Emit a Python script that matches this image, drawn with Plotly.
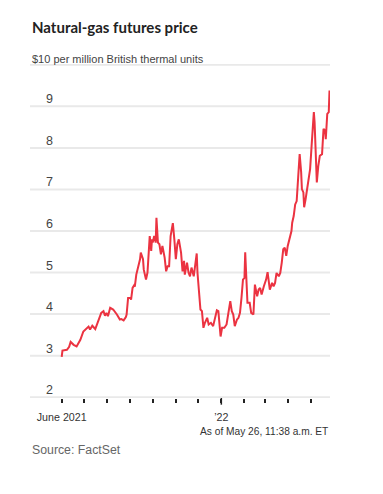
import plotly.graph_objects as go

# ---- data ----
dates = [
    "2021-06-01", "2021-06-02", "2021-06-08", "2021-06-11", "2021-06-13", "2021-06-17",
    "2021-06-21", "2021-06-26", "2021-06-30", "2021-07-05", "2021-07-07", "2021-07-09",
    "2021-07-12", "2021-07-16", "2021-07-20", "2021-07-24", "2021-07-27", "2021-07-29",
    "2021-07-31", "2021-08-02", "2021-08-05", "2021-08-09", "2021-08-14", "2021-08-18",
    "2021-08-20", "2021-08-23", "2021-08-26", "2021-08-27", "2021-08-29", "2021-09-01",
    "2021-09-02", "2021-09-04", "2021-09-06", "2021-09-07", "2021-09-09", "2021-09-10",
    "2021-09-12", "2021-09-14", "2021-09-15", "2021-09-18", "2021-09-19", "2021-09-22",
    "2021-09-24", "2021-09-26", "2021-09-27", "2021-09-29", "2021-09-30", "2021-10-01",
    "2021-10-03", "2021-10-05", "2021-10-06", "2021-10-08", "2021-10-10", "2021-10-12",
    "2021-10-14", "2021-10-17", "2021-10-19", "2021-10-21", "2021-10-23", "2021-10-25",
    "2021-10-28", "2021-10-30", "2021-11-01", "2021-11-03", "2021-11-05", "2021-11-08",
    "2021-11-10", "2021-11-12", "2021-11-13", "2021-11-16", "2021-11-18", "2021-11-20",
    "2021-11-22", "2021-11-25", "2021-11-27", "2021-11-29", "2021-11-30", "2021-12-02",
    "2021-12-04", "2021-12-06", "2021-12-08", "2021-12-10", "2021-12-13", "2021-12-15",
    "2021-12-18", "2021-12-21", "2021-12-24", "2021-12-26", "2021-12-28", "2021-12-29",
    "2021-12-31", "2022-01-02", "2022-01-05", "2022-01-08", "2022-01-10", "2022-01-13",
    "2022-01-15", "2022-01-17", "2022-01-19", "2022-01-22", "2022-01-24", "2022-01-26",
    "2022-01-28", "2022-01-30", "2022-02-01", "2022-02-02", "2022-02-03", "2022-02-05",
    "2022-02-08", "2022-02-10", "2022-02-13", "2022-02-14", "2022-02-15", "2022-02-18",
    "2022-02-20", "2022-02-22", "2022-02-24", "2022-02-27", "2022-03-02", "2022-03-04",
    "2022-03-06", "2022-03-07", "2022-03-10", "2022-03-12", "2022-03-14", "2022-03-16",
    "2022-03-19", "2022-03-21", "2022-03-23", "2022-03-25", "2022-03-27", "2022-03-29",
    "2022-03-31", "2022-04-02", "2022-04-05", "2022-04-06", "2022-04-08", "2022-04-10",
    "2022-04-12", "2022-04-14", "2022-04-16", "2022-04-18", "2022-04-19", "2022-04-21",
    "2022-04-22", "2022-04-24", "2022-04-26", "2022-04-28", "2022-04-30", "2022-05-02",
    "2022-05-05", "2022-05-06", "2022-05-08", "2022-05-09", "2022-05-11", "2022-05-13",
    "2022-05-16", "2022-05-18", "2022-05-20", "2022-05-21", "2022-05-23", "2022-05-25",
    "2022-05-26",
]
prices = [
    2.97, 3.12, 3.14, 3.21, 3.33, 3.26,
    3.22, 3.38, 3.58, 3.67, 3.70, 3.63,
    3.72, 3.64, 3.83, 4.03, 4.07, 3.96,
    4.03, 3.95, 4.15, 4.11, 3.99, 3.87,
    3.88, 3.85, 3.93, 3.99, 4.39, 4.39,
    4.35, 4.63, 4.69, 4.66, 4.95, 5.03,
    5.15, 5.32, 5.48, 5.32, 5.07, 4.83,
    5.00, 5.60, 5.88, 5.52, 5.80, 5.72,
    5.88, 5.72, 6.32, 5.72, 5.68, 5.44,
    5.64, 5.36, 5.03, 5.15, 5.15, 5.88,
    6.19, 5.80, 5.32, 5.68, 5.80, 5.48,
    5.03, 5.28, 4.95, 5.24, 5.00, 4.91,
    5.12, 4.91, 5.20, 5.46, 5.00, 4.51,
    4.11, 4.07, 3.67, 3.79, 3.91, 3.75,
    3.79, 3.71, 3.91, 4.09, 4.07, 3.87,
    3.46, 3.67, 3.67, 3.75, 3.95, 4.31,
    4.07, 3.99, 3.71, 3.87, 3.91, 4.03,
    4.39, 4.83, 4.87, 5.49, 5.07, 4.27,
    4.27, 4.03, 3.99, 4.23, 4.71, 4.43,
    4.59, 4.63, 4.47, 4.67, 4.83, 5.01,
    4.75, 4.59, 4.75, 4.67, 4.75, 4.99,
    4.91, 4.99, 5.24, 5.56, 5.60, 5.40,
    5.64, 5.80, 6.00, 6.20, 6.36, 6.64,
    6.72, 7.29, 7.85, 7.41, 7.01, 6.93,
    6.57, 6.77, 7.01, 7.25, 7.49, 8.05,
    8.86, 8.62, 7.65, 7.17, 7.57, 7.81,
    7.85, 8.46, 8.42, 8.21, 8.82, 8.86,
    9.38,
]

y_ticks = [2, 3, 4, 5, 6, 7, 8, 9, 10]
y_tick_labels = ["2", "3", "4", "5", "6", "7", "8", "9", ""]
month_ticks = [
    "2021-06-01", "2021-07-01", "2021-08-01", "2021-09-01", "2021-10-01", "2021-11-01",
    "2021-12-01", "2022-01-01", "2022-02-01", "2022-03-01", "2022-04-01", "2022-05-01",
]
month_labels = ["June 2021", "", "", "", "", "", "", "\u201922", "", "", "", ""]
year_tick = "2022-01-01"

title = "Natural-gas futures price"
subtitle = "$10 per million British thermal units"
note = "As of May 26, 11:38 a.m. ET"
source = "Source: FactSet"

SANS = "Liberation Sans, Arial, sans-serif"
TITLE_FONT = "Lato, Open Sans, sans-serif"
x_range = ["2021-04-19 12:00", "2022-05-26 16:00"]

fig = go.Figure()
fig.add_trace(go.Scatter(
    x=dates, y=prices, mode="lines",
    line=dict(color="#eb3341", width=2),
    hoverinfo="x+y", showlegend=False,
))

# horizontal grid lines at the y tick values
shapes = [
    dict(type="line", xref="paper", yref="y", x0=0, x1=1, y0=v, y1=v,
         layer="below", line=dict(color="#e9e9e9", width=2))
    for v in y_ticks
]
# longer tick for the year boundary
shapes.append(dict(
    type="line", xref="x", yref="paper",
    x0=year_tick, x1=year_tick, y0=0, y1=-0.02,
    line=dict(color="#222", width=1.5),
))

annotations = []
for v, t in zip(y_ticks, y_tick_labels):
    if t:
        annotations.append(dict(
            x=0.047, xref="paper", y=v, yref="y", text=t, showarrow=False,
            xanchor="left", yanchor="middle", yshift=7,
            font=dict(family=SANS, size=12.5, color="#444"),
        ))
annotations += [
    dict(x=0, xref="paper", y=1.112, yref="paper", text="<b>" + title + "</b>",
         showarrow=False, xanchor="left", yanchor="middle",
         font=dict(family=TITLE_FONT, size=15, color="#222")),
    dict(x=0, xref="paper", y=1.015, yref="paper", text=subtitle,
         showarrow=False, xanchor="left", yanchor="middle",
         font=dict(family=SANS, size=11, color="#444")),
    dict(x=1, xref="paper", y=-0.100, yref="paper", text=note,
         showarrow=False, xanchor="right", yanchor="middle",
         font=dict(family=SANS, size=10.2, color="#333")),
    dict(x=0, xref="paper", y=-0.156, yref="paper", text=source,
         showarrow=False, xanchor="left", yanchor="middle",
         font=dict(family=SANS, size=12.3, color="#666")),
]

fig.update_layout(
    width=375, height=486,
    margin=dict(l=22, r=53, t=56, b=96),
    paper_bgcolor="white", plot_bgcolor="rgba(0,0,0,0)",
    font=dict(family=SANS),
    xaxis=dict(
        type="date", range=x_range,
        tickmode="array", tickvals=month_ticks, ticktext=month_labels,
        ticks="outside", ticklen=4, tickwidth=1.5, tickcolor="#222",
        ticklabelstandoff=5,
        showgrid=False, zeroline=False, showline=False,
        tickfont=dict(family=SANS, size=10.7, color="#333"),
    ),
    yaxis=dict(
        range=[1.98, 10.02], showticklabels=False, ticks="",
        showgrid=False, zeroline=False, showline=False,
    ),
    shapes=shapes,
    annotations=annotations,
)

fig.write_html("out.html")
